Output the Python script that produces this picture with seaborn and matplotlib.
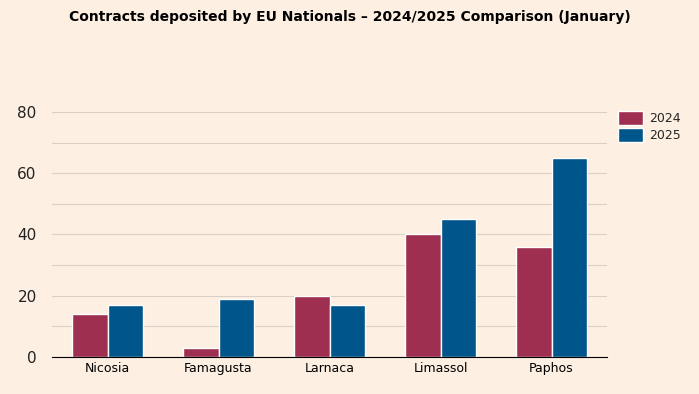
import pandas as pd
import matplotlib.pyplot as plt
import seaborn as sns

districts = ['Nicosia', 'Famagusta', 'Larnaca', 'Limassol', 'Paphos']
values_2024 = [14, 3, 20, 40, 36]
values_2025 = [17, 19, 17, 45, 65]

data = pd.DataFrame({
    'District': districts * 2,
    'Year': ['2024'] * 5 + ['2025'] * 5,
    'Contracts': values_2024 + values_2025,
})

bg = '#fdefe2'
sns.set_style('white')
plt.rcParams['font.family'] = ['DejaVu Sans']

fig = plt.figure(figsize=(6.99, 3.94), dpi=100, facecolor=bg)
ax = fig.add_axes([0.0744, 0.094, 0.794, 0.622])
ax.set_facecolor(bg)

sns.barplot(data=data, x='District', y='Contracts', hue='Year',
            palette={'2024': '#9e2f50', '2025': '#00558b'}, saturation=1,
            width=0.64, edgecolor='white', linewidth=1, ax=ax)

ax.set_ylim(0, 80)
ax.set_xlim(-0.5, 4.5)
ax.set_yticks([0, 20, 40, 60, 80])
ax.set_yticks([10, 30, 50, 70], minor=True)
ax.grid(axis='y', which='both', color='#d9d0c7', linewidth=0.8)
ax.set_axisbelow(True)
for s in ['top', 'right', 'left']:
    ax.spines[s].set_visible(False)
ax.spines['bottom'].set_color('black')
ax.tick_params(axis='y', which='both', length=0, labelsize=11, pad=11, colors='#222222')
ax.tick_params(axis='x', length=0, labelsize=9, colors='black')
ax.set_xlabel('')
ax.set_ylabel('')

leg = ax.legend(loc='upper left', bbox_to_anchor=(1.0, 1.05), frameon=False,
                fontsize=9, handlelength=2.0, handleheight=1.35, labelspacing=0.25,
                handletextpad=0.5)

fig.suptitle('Contracts deposited by EU Nationals \u2013 2024/2025 Comparison (January)',
             x=0.5, y=0.975, fontsize=10, fontweight='bold', color='black')

fig.savefig('out.png', dpi=100, facecolor=bg)
